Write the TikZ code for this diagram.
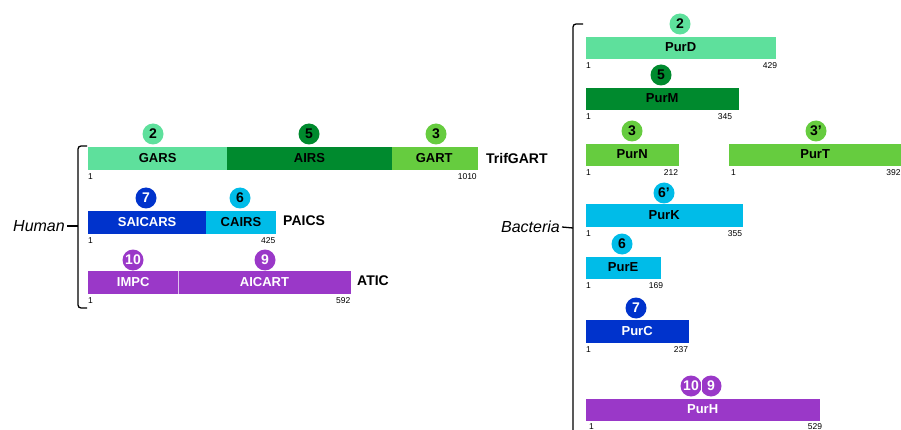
\documentclass[tikz,border=0pt]{standalone}
\usepackage{fontspec}
\setmainfont{Liberation Sans}
\definecolor{lgreen}{HTML}{5EE09C}
\definecolor{dgreen}{HTML}{008A2E}
\definecolor{mgreen}{HTML}{66CC3F}
\definecolor{dblue}{HTML}{0033CC}
\definecolor{cyanb}{HTML}{00BCE8}
\definecolor{purp}{HTML}{9A38C8}
\begin{document}
\begin{tikzpicture}[x=1pt,y=-1pt,
  seg/.style={inner sep=0pt, minimum height=22pt, anchor=west, line width=0.3pt, font=\fontsize{13}{13}\selectfont\bfseries},
  sc/.style={fill=#1, draw=#1},
  num/.style={circle, inner sep=0pt, minimum size=21pt, font=\fontsize{14}{14}\selectfont\bfseries},
  posl/.style={inner sep=0pt, font=\fontsize{8.5}{9}\selectfont},
  prot/.style={inner sep=0pt, anchor=west, font=\fontsize{14}{14}\selectfont\bfseries},
  grp/.style={inner sep=0pt, anchor=east, font=\fontsize{16}{16}\selectfont\itshape},
  brk/.style={line width=1.3pt, rounded corners=3pt}]
\useasboundingbox (0,0) rectangle (901,430);
% ---------------- Human ----------------
\node[seg, sc=lgreen, minimum width=139pt] (gars) at (88,158.5) {GARS};
\node[seg, sc=dgreen, minimum width=164pt] (airs) at (gars.east) {AIRS};
\node[seg, sc=mgreen, minimum width=85pt] (gart) at (airs.east) {GART};
\node[prot] (trif) at (486,158.5) {TrifGART};
\node[num, fill=lgreen] (n2h) at (153,134) {2};
\node[num, fill=dgreen] (n5h) at (309,134) {5};
\node[num, fill=mgreen] (n3h) at (436,134) {3};
\node[posl, anchor=north west] (t1a) at ([yshift=-4pt]gars.south west) {1};
\node[posl, anchor=north east] (t1b) at ([yshift=-4pt]gart.south east) {1010};

\node[seg, sc=dblue, text=white, minimum width=118pt] (saicars) at (88,222) {SAICARS};
\node[seg, sc=cyanb, minimum width=69pt] (cairs) at (saicars.east) {CAIRS};
\node[prot] (paics) at (283,221) {PAICS};
\node[num, fill=dblue, text=white] (n7h) at (146,198) {7};
\node[num, fill=cyanb] (n6h) at (240,198) {6};
\node[posl, anchor=north west] (t2a) at ([yshift=-4pt]saicars.south west) {1};
\node[posl, anchor=north east] (t2b) at ([yshift=-4pt]cairs.south east) {425};

\node[seg, sc=purp, text=white, minimum width=90pt] (impc) at (88,282.5) {IMPC};
\node[seg, sc=purp, text=white, minimum width=172pt] (aicart) at (impc.east) {AICART};
\draw[white!70!purp, line width=0.6pt] (impc.north east) -- (impc.south east);
\node[prot] (atic) at (357,281) {ATIC};
\node[num, fill=purp, text=white] (n10h) at (133,260) {10};
\node[num, fill=purp, text=white] (n9h) at (265,260) {9};
\node[posl, anchor=north west] (t3a) at ([yshift=-4pt]impc.south west) {1};
\node[posl, anchor=north east] (t3b) at ([yshift=-4pt]aicart.south east) {592};

\node[grp] (human) at (65,226) {Human};
\coordinate (hb1) at (87,146);
\coordinate (hb2) at (87,308);
\coordinate (htip) at (human.east);
\draw[brk] (hb1) -- (78,146) -- (78,308) -- (hb2);
\draw[brk] ([xshift=2pt]htip) -- (78,226);
% ---------------- Bacteria ----------------
\node[seg, sc=lgreen, minimum width=189pt, minimum height=21pt] (purd) at (586,47.5) {PurD};
\node[num, fill=lgreen] (n2b) at (680,24) {2};
\node[posl, anchor=north west] (t4a) at ([yshift=-4pt]purd.south west) {1};
\node[posl, anchor=north east] (t4b) at ([xshift=2pt,yshift=-4pt]purd.south east) {429};

\node[seg, sc=dgreen, minimum width=152pt, minimum height=21pt] (purm) at (586,98.5) {PurM};
\node[num, fill=dgreen] (n5b) at (661,75) {5};
\node[posl, anchor=north west] (t5a) at ([yshift=-4pt]purm.south west) {1};
\node[posl, anchor=north east] (t5b) at ([xshift=-6pt,yshift=-4pt]purm.south east) {345};

\node[seg, sc=mgreen, minimum width=92pt, minimum height=21pt] (purn) at (586,154.5) {PurN};
\node[num, fill=mgreen] (n3b) at (632,131) {3};
\node[posl, anchor=north west] (t6a) at ([yshift=-4pt]purn.south west) {1};
\node[posl, anchor=north east] (t6b) at ([yshift=-4pt]purn.south east) {212};

\node[seg, sc=mgreen, minimum width=172pt, minimum height=21pt] (purt) at (729,154.5) {PurT};
\node[num, fill=mgreen] (n3pb) at (816,131) {3’};
\node[posl, anchor=north west] (t7a) at ([xshift=2pt,yshift=-4pt]purt.south west) {1};
\node[posl, anchor=north east] (t7b) at ([xshift=-0.5pt,yshift=-4pt]purt.south east) {392};

\node[seg, sc=cyanb, minimum width=156pt] (purk) at (586,215) {PurK};
\node[num, fill=cyanb] (n6pb) at (664,193) {6’};
\node[posl, anchor=north west] (t8a) at ([yshift=-4pt]purk.south west) {1};
\node[posl, anchor=north east] (t8b) at ([yshift=-4pt]purk.south east) {355};

\node[seg, sc=cyanb, minimum width=74pt, minimum height=21pt] (pure) at (586,267.5) {PurE};
\node[num, fill=cyanb] (n6b) at (622,244) {6};
\node[posl, anchor=north west] (t9a) at ([yshift=-4pt]pure.south west) {1};
\node[posl, anchor=north east] (t9b) at ([xshift=3pt,yshift=-4pt]pure.south east) {169};

\node[seg, sc=dblue, text=white, minimum width=102pt] (purc) at (586,331) {PurC};
\node[num, fill=dblue, text=white] (n7b) at (636,308) {7};
\node[posl, anchor=north west] (t10a) at ([yshift=-4pt]purc.south west) {1};
\node[posl, anchor=north east] (t10b) at ([yshift=-4pt]purc.south east) {237};

\node[seg, sc=purp, text=white, minimum width=233pt, minimum height=21pt] (purh) at (586,409.5) {PurH};
\node[num, fill=purp, text=white] (n10b) at (691,386) {10};
\node[num, fill=purp, text=white] (n9b) at (711,386) {9};
\draw[white, line width=0.6pt] ([yshift=8pt]n10b.east) -- ([yshift=-8pt]n10b.east);
\node[posl, anchor=north west] (t11a) at ([xshift=3pt,yshift=-3pt]purh.south west) {1};
\node[posl, anchor=north east] (t11b) at ([xshift=3pt,yshift=-3pt]purh.south east) {529};

\node[grp] (bact) at (560,227) {Bacteria};
\coordinate (bb1) at (583,24);
\coordinate (bb2) at (573,436);
\draw[brk] (bb1) -- (573,24) -- (bb2);
\draw[brk] ([xshift=2pt]bact.east) -- (573,228);
\end{tikzpicture}
\end{document}
